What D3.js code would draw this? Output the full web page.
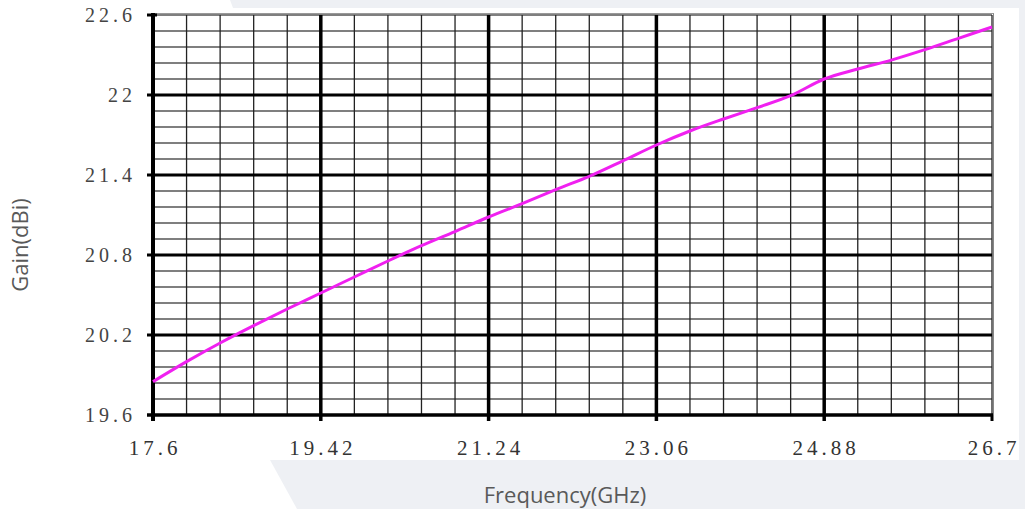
<!DOCTYPE html>
<html>
<head>
  <meta charset="utf-8">
  <title>Gain vs Frequency</title>
  <script src="https://d3js.org/d3.v7.min.js"></script>
  <style>
    body { margin: 0; background: #eef0f4; }
  </style>
</head>
<body>
  <div id="chart"></div>

  <script>
    // Data (GHz, dBi)
    const freq = [17.6, 17.964, 18.328, 18.692, 19.056, 19.42, 19.784, 20.148, 20.512, 20.876,
                  21.24, 21.604, 21.968, 22.332, 22.696, 23.06, 23.424, 23.788, 24.152, 24.516,
                  24.88, 25.244, 25.608, 25.972, 26.336, 26.7];
    const gain = [19.85, 20.0, 20.14, 20.27, 20.395, 20.515, 20.635, 20.755, 20.87, 20.976,
                  21.085, 21.185, 21.29, 21.39, 21.506, 21.625, 21.73, 21.82, 21.905, 21.995,
                  22.12, 22.195, 22.262, 22.34, 22.425, 22.51];

    const xTicks = [17.6, 19.42, 21.24, 23.06, 24.88, 26.7];
    const yTicks = [19.6, 20.2, 20.8, 21.4, 22, 22.6];
    const xTickLabels = ["17.6", "19.42", "21.24", "23.06", "24.88", "26.7"];
    const yTickLabels = ["19.6", "20.2", "20.8", "21.4", "22", "22.6"];

    const width = 1025;
    const height = 509;
    const plotL = 153, plotR = 992, plotT = 15, plotB = 415;

    const svg = d3.select("#chart")
      .append("svg")
      .attr("width", width)
      .attr("height", height)
      .style("display", "block");

    // background pieces (slide style)
    svg.append("rect").attr("width", width).attr("height", height).attr("fill", "#eef0f4");
    svg.append("polygon")
      .attr("points", "0,0 230,0 233,8 1019,8 1019,460 0,460")
      .attr("fill", "#ffffff");
    svg.append("polygon")
      .attr("points", "0,460 270,460 297,509 0,509")
      .attr("fill", "#ffffff");

    const x = d3.scaleLinear().domain([17.6, 26.7]).range([plotL, plotR]);
    const y = d3.scaleLinear().domain([19.6, 22.6]).range([plotB, plotT]);

    // minor grid: 5 steps per major interval
    const xMinor = d3.range(0, 26).map(i => 17.6 + i * (26.7 - 17.6) / 25);
    const yMinor = d3.range(0, 26).map(i => 19.6 + i * 0.12);

    const grid = svg.append("g");
    grid.append("rect")
      .attr("x", plotL).attr("y", plotT)
      .attr("width", plotR - plotL).attr("height", plotB - plotT)
      .attr("fill", "#fff");

    grid.selectAll(".hmin")
      .data(yMinor)
      .enter().append("line")
      .attr("x1", plotL).attr("x2", plotR)
      .attr("y1", d => y(d)).attr("y2", d => y(d))
      .attr("stroke", "#555").attr("stroke-width", 1.5);

    grid.selectAll(".vmin")
      .data(xMinor)
      .enter().append("line")
      .attr("y1", plotT).attr("y2", plotB)
      .attr("x1", d => x(d)).attr("x2", d => x(d))
      .attr("stroke", "#222").attr("stroke-width", 1.3);

    // top and right frame (gray, doubled)
    grid.append("line").attr("x1", plotL).attr("x2", plotR + 2).attr("y1", plotT - 1.5).attr("y2", plotT - 1.5)
      .attr("stroke", "#999").attr("stroke-width", 1);
    grid.append("line").attr("x1", plotR + 1.5).attr("x2", plotR + 1.5).attr("y1", plotT - 1.5).attr("y2", plotB)
      .attr("stroke", "#888").attr("stroke-width", 1);

    // major grid
    grid.selectAll(".hmaj")
      .data(yTicks.slice(1, 5))
      .enter().append("line")
      .attr("x1", plotL - 6).attr("x2", plotR)
      .attr("y1", d => y(d)).attr("y2", d => y(d))
      .attr("stroke", "#000").attr("stroke-width", 3);

    grid.selectAll(".vmaj")
      .data(xTicks.slice(1, 5))
      .enter().append("line")
      .attr("y1", plotT).attr("y2", plotB + 6)
      .attr("x1", d => x(d)).attr("x2", d => x(d))
      .attr("stroke", "#000").attr("stroke-width", 3.5);

    // top tick at 22.6
    grid.append("line").attr("x1", plotL - 6).attr("x2", plotL + 4)
      .attr("y1", y(22.6)).attr("y2", y(22.6))
      .attr("stroke", "#000").attr("stroke-width", 3);
    // right tick at 26.7
    grid.append("line").attr("x1", x(26.7)).attr("x2", x(26.7))
      .attr("y1", plotB).attr("y2", plotB + 6)
      .attr("stroke", "#000").attr("stroke-width", 3);

    // axes
    grid.append("line").attr("x1", plotL).attr("x2", plotL).attr("y1", plotT - 2).attr("y2", plotB + 6)
      .attr("stroke", "#000").attr("stroke-width", 4);
    grid.append("line").attr("x1", plotL - 6).attr("x2", plotR + 1).attr("y1", plotB).attr("y2", plotB)
      .attr("stroke", "#000").attr("stroke-width", 3.5);

    // curve
    const line = d3.line()
      .x((d, i) => x(freq[i]))
      .y(d => y(d))
      .curve(d3.curveMonotoneX);

    svg.append("path")
      .datum(gain)
      .attr("d", line)
      .attr("fill", "none")
      .attr("stroke", "#f020f0")
      .attr("stroke-width", 3);

    // tick labels
    svg.selectAll(".xl")
      .data(xTicks)
      .enter().append("text")
      .attr("x", d => x(d) + 2)
      .attr("y", 455)
      .attr("text-anchor", "middle")
      .style("font-family", "'Liberation Serif', 'DejaVu Serif', serif")
      .style("font-size", "21px")
      .style("letter-spacing", "4px")
      .attr("fill", "#333")
      .text((d, i) => xTickLabels[i]);

    svg.selectAll(".yl")
      .data(yTicks)
      .enter().append("text")
      .attr("x", 136)
      .attr("y", d => y(d) + 7)
      .attr("text-anchor", "end")
      .style("font-family", "'Liberation Serif', 'DejaVu Serif', serif")
      .style("font-size", "20px")
      .style("letter-spacing", "4px")
      .attr("fill", "#444")
      .text((d, i) => yTickLabels[i]);

    // axis titles
    svg.append("text")
      .attr("transform", "translate(28,245) rotate(-90)")
      .attr("text-anchor", "middle")
      .style("font-family", "'Open Sans', sans-serif")
      .style("font-size", "22px")
      .attr("fill", "#595959")
      .text("Gain(dBi)");

    svg.append("text")
      .attr("x", 565)
      .attr("y", 503)
      .attr("text-anchor", "middle")
      .style("font-family", "'Open Sans', sans-serif")
      .style("font-size", "22px")
      .attr("fill", "#595959")
      .text("Frequency(GHz)");
  </script>
</body>
</html>
